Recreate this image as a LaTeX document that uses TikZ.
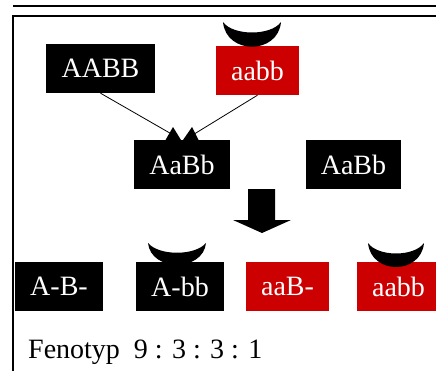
\documentclass[tikz,border=0pt]{standalone}
\usepackage{fontspec}
\setmainfont{Liberation Serif}
\definecolor{gred}{HTML}{CC0000}
\begin{document}
\begin{tikzpicture}[x=1pt,y=-1pt,
  gbox/.style={rectangle, inner sep=0pt, minimum height=49pt, text=white,
    font=\fontsize{28}{30}\selectfont},
  blk/.style={gbox, fill=black},
  rd/.style={gbox, fill=gred},
  tip/.style={fill=black},
  cres/.style={fill=black}]
\useasboundingbox (0,0) rectangle (436,370);
% top rule and frame
\coordinate (r1) at (13,5.5);
\coordinate (r2) at (437,5.5);
\draw[line width=2pt] (r1) -- (r2);
\coordinate (f1) at (13,375);
\coordinate (f2) at (13,16);
\coordinate (f3) at (440,16);
\draw[line width=2.4pt] (f1) -- (f2) -- (f3);
% crescents (drawn under boxes)
\fill[cres] (148,243) .. controls (151,272) and (203,272) .. (206,243)
  .. controls (195,256) and (159,256) .. cycle;
% boxes
\node[blk, minimum width=109pt] (AABB) at (100.5,68.5) {AABB};
\node[rd, minimum width=83pt] (aabb) at (257.5,70.5) {aabb};
\node[blk, minimum width=96pt] (AaBb1) at (182,164.5) {AaBb};
\node[blk, minimum width=95pt] (AaBb2) at (353.5,164.5) {AaBb};
\node[blk, minimum width=88pt] (ABx) at (59,286.5) {A-B-};
\node[blk, minimum width=88pt] (Abb) at (180,286.5) {A-bb};
\node[rd, minimum width=83pt] (aaB) at (287.5,286.5) {aaB-};
\node[rd, minimum width=83pt] (aabb2) at (398.5,286.5) {aabb};
% crescents over boxes
\fill[cres] (223,22) .. controls (226,55) and (278,55) .. (281,22)
  .. controls (271,36) and (233,36) .. cycle;
\fill[cres] (368,243) .. controls (371,275) and (421,275) .. (424,243)
  .. controls (414,257) and (378,257) .. cycle;
% connectors with tips
\coordinate (t1) at (175,136);
\coordinate (t2) at (191,136);
\draw[line width=0.8pt] (AABB.south) -- (t1);
\draw[line width=0.8pt] (aabb.south) -- (t2);
\fill[tip] (173,127) -- (181,140) -- (165.5,140) -- cycle;
\fill[tip] (192,127) -- (198.5,140) -- (183,140) -- cycle;
% big arrow
\fill (248,189) -- (275,189) -- (275,220) -- (291,220) -- (262,233)
  -- (233,220) -- (248,220) -- cycle;
% phenotype line
\node[anchor=base west, inner sep=0pt, font=\fontsize{28}{30}\selectfont] (fen) at (28,358)
  {Fenotyp\ \ 9 : 3 : 3 : 1};
\end{tikzpicture}
\end{document}
